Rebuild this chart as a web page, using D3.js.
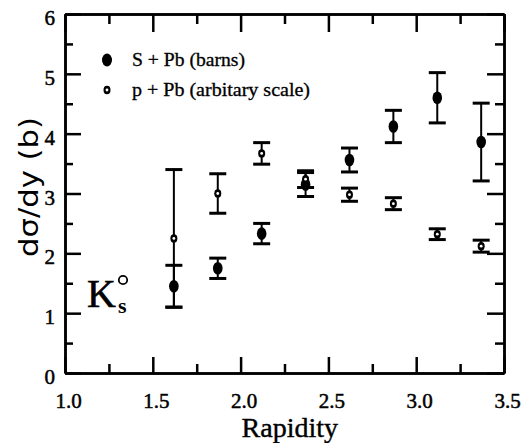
<!DOCTYPE html>
<html>
<head>
<meta charset="utf-8">
<script src="https://cdn.jsdelivr.net/npm/d3@7"></script>
<style>
  body { margin: 0; background: #fff; }
  svg { display: block; }
  .axis path, .axis line { stroke: #000; stroke-width: 2.5; }
  .axis text { font-family: "Liberation Serif", serif; font-size: 21px; fill: #000; stroke: #000; stroke-width: 0.5; }
</style>
</head>
<body>
<script>
/* global d3 */

const width = 531;
const height = 443;

// rapidity bins
const rapidity = [1.62, 1.87, 2.12, 2.37, 2.62, 2.87, 3.12, 3.37];

// S + Pb (barns), filled markers
const sPbValue = [1.45, 1.75, 2.33, 3.15, 3.56, 4.12, 4.60, 3.86];
const sPbError = [0.35, 0.17, 0.17, 0.20, 0.20, 0.27, 0.42, 0.65];

// p + Pb (arbitrary scale), open markers
const pPbValue = [2.25, 3.00, 3.67, 3.24, 2.98, 2.83, 2.32, 2.12];
const pPbError = [1.15, 0.33, 0.18, 0.14, 0.11, 0.10, 0.09, 0.10];

const xMajor = [1.0, 1.5, 2.0, 2.5, 3.0, 3.5];
const xMinor = [1.25, 1.75, 2.25, 2.75, 3.25];
const yMajor = [0, 1, 2, 3, 4, 5, 6];
const yMinor = [0.5, 1.5, 2.5, 3.5, 4.5, 5.5];

const legendLabels = ['S + Pb (barns)', 'p + Pb (arbitary scale)'];

const margin = { left: 65, right: 27, top: 14, bottom: 70 };
const plotW = width - margin.left - margin.right;
const plotH = height - margin.top - margin.bottom;

const x = d3.scaleLinear().domain([1.0, 3.5]).range([0, plotW]);
const y = d3.scaleLinear().domain([0, 6]).range([plotH, 0]);

const svg = d3.select('body').append('svg')
  .attr('width', width)
  .attr('height', height);

const g = svg.append('g')
  .attr('transform', `translate(${margin.left},${margin.top})`);

const fmt = d3.format('.1f');

// bottom axis with labels
g.append('g').attr('class', 'axis')
  .attr('transform', `translate(0,${plotH})`)
  .call(d3.axisBottom(x).tickValues(xMajor).tickFormat(fmt).tickSizeInner(-16).tickSizeOuter(0).tickPadding(20))
  .call(a => a.selectAll('text').attr('dx', 3));
g.append('g').attr('class', 'axis')
  .attr('transform', `translate(0,${plotH})`)
  .call(d3.axisBottom(x).tickValues(xMinor).tickFormat('').tickSizeInner(-9).tickSizeOuter(0));

// top axis
g.append('g').attr('class', 'axis')
  .call(d3.axisTop(x).tickValues(xMajor).tickFormat('').tickSizeInner(-18).tickSizeOuter(0));
g.append('g').attr('class', 'axis')
  .call(d3.axisTop(x).tickValues(xMinor).tickFormat('').tickSizeInner(-10).tickSizeOuter(0));

// left axis with labels
g.append('g').attr('class', 'axis')
  .call(d3.axisLeft(y).tickValues(yMajor).tickFormat(d3.format('d')).tickSizeInner(-16).tickSizeOuter(0).tickPadding(10))
  .call(a => a.selectAll('text').attr('dy', '0.5em'));
g.append('g').attr('class', 'axis')
  .call(d3.axisLeft(y).tickValues(yMinor).tickFormat('').tickSizeInner(-8).tickSizeOuter(0));

// right axis
g.append('g').attr('class', 'axis')
  .attr('transform', `translate(${plotW},0)`)
  .call(d3.axisRight(y).tickValues(yMajor).tickFormat('').tickSizeInner(-17).tickSizeOuter(0));
g.append('g').attr('class', 'axis')
  .attr('transform', `translate(${plotW},0)`)
  .call(d3.axisRight(y).tickValues(yMinor).tickFormat('').tickSizeInner(-9).tickSizeOuter(0));

// axis titles
svg.append('text')
  .attr('x', margin.left + x(2.28))
  .attr('y', 437)
  .attr('text-anchor', 'middle')
  .style('font-family', '"Liberation Serif", serif')
  .style('font-size', '28px')
  .style('stroke', '#000')
  .style('stroke-width', 0.4)
  .text('Rapidity');

svg.append('text')
  .attr('transform', 'translate(38,187) rotate(-90)')
  .attr('text-anchor', 'middle')
  .attr('textLength', 140)
  .attr('lengthAdjust', 'spacingAndGlyphs')
  .style('font-family', '"DejaVu Sans", sans-serif')
  .style('font-size', '26px')
  .text('dσ/dy (b)');

// error bars
function errorBars(values, errors, capW) {
  const eb = g.append('g');
  rapidity.forEach((r, i) => {
    const cx = x(r);
    const lo = y(values[i] - errors[i]);
    const hi = y(values[i] + errors[i]);
    eb.append('line')
      .attr('x1', cx).attr('x2', cx).attr('y1', lo).attr('y2', hi)
      .attr('stroke', '#000').attr('stroke-width', 2);
    [lo, hi].forEach(v => {
      eb.append('line')
        .attr('x1', cx - capW / 2).attr('x2', cx + capW / 2)
        .attr('y1', v).attr('y2', v)
        .attr('stroke', '#000').attr('stroke-width', 3);
    });
  });
}

errorBars(pPbValue, pPbError, 17);
errorBars(sPbValue, sPbError, 17);

// filled markers
g.append('g').selectAll('ellipse')
  .data(rapidity)
  .enter().append('ellipse')
  .attr('cx', d => x(d))
  .attr('cy', (d, i) => y(sPbValue[i]))
  .attr('rx', 4.8)
  .attr('ry', 6.3)
  .attr('fill', '#000');

// open markers
const openG = g.append('g');
openG.selectAll('ellipse')
  .data(rapidity)
  .enter().append('ellipse')
  .attr('cx', d => x(d))
  .attr('cy', (d, i) => y(pPbValue[i]))
  .attr('rx', 3.5)
  .attr('ry', 4.2)
  .attr('fill', '#000');
openG.selectAll('circle')
  .data(rapidity)
  .enter().append('circle')
  .attr('cx', d => x(d))
  .attr('cy', (d, i) => y(pPbValue[i]))
  .attr('r', 1.4)
  .attr('fill', '#fff');

// legend
const legend = svg.append('g');
legend.append('ellipse')
  .attr('cx', 107).attr('cy', 60).attr('rx', 5).attr('ry', 6.5).attr('fill', '#000');
legend.append('ellipse')
  .attr('cx', 107).attr('cy', 90).attr('rx', 3.5).attr('ry', 4.3).attr('fill', '#000');
legend.append('circle')
  .attr('cx', 107).attr('cy', 90).attr('r', 1.4).attr('fill', '#fff');
legend.selectAll('text')
  .data(legendLabels)
  .enter().append('text')
  .attr('x', 132)
  .attr('y', (d, i) => 66 + i * 30)
  .attr('textLength', (d, i) => [113, 178][i])
  .attr('lengthAdjust', 'spacingAndGlyphs')
  .style('font-family', '"Liberation Serif", serif')
  .style('font-size', '18px')
  .style('stroke', '#000')
  .style('stroke-width', 0.3)
  .text(d => d);

// K0s label
svg.append('text')
  .attr('x', 87)
  .attr('y', 307)
  .style('font-family', '"Liberation Serif", serif')
  .style('font-size', '40px')
  .style('stroke', '#000')
  .style('stroke-width', 0.6)
  .text('K');
svg.append('circle')
  .attr('cx', 123).attr('cy', 280).attr('r', 4.2)
  .attr('fill', 'none').attr('stroke', '#000').attr('stroke-width', 1.8);
svg.append('text')
  .attr('x', 118).attr('y', 313)
  .style('font-family', '"Liberation Serif", serif')
  .style('font-size', '22px')
  .style('font-weight', 'bold')
  .text('s');
</script>
</body>
</html>
